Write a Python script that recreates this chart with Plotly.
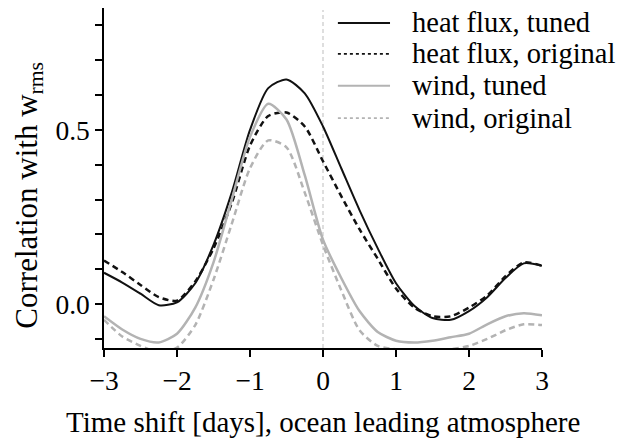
import plotly.graph_objects as go

shift_days = [-3, -2.75, -2.5, -2.25, -2, -1.75, -1.5, -1.25, -1, -0.75, -0.5, -0.25,
              0, 0.25, 0.5, 0.75, 1, 1.25, 1.5, 1.75, 2, 2.25, 2.5, 2.75, 3]

heat_tuned = [0.09, 0.062, 0.03, -0.003, 0.005, 0.06, 0.17, 0.32, 0.50, 0.62, 0.645, 0.605,
              0.51, 0.39, 0.27, 0.16, 0.06, -0.005, -0.04, -0.045, -0.02, 0.02, 0.075, 0.117, 0.11]
heat_original = [0.125, 0.092, 0.055, 0.02, 0.01, 0.065, 0.16, 0.29, 0.455, 0.54, 0.55, 0.51,
                 0.41, 0.31, 0.215, 0.13, 0.045, -0.01, -0.035, -0.035, -0.01, 0.025, 0.08, 0.12, 0.11]
wind_tuned = [-0.035, -0.073, -0.10, -0.11, -0.085, -0.01, 0.12, 0.30, 0.48, 0.575, 0.53, 0.37,
              0.185, 0.075, -0.02, -0.08, -0.105, -0.11, -0.105, -0.095, -0.085, -0.058, -0.035, -0.026, -0.032]
wind_original = [-0.045, -0.093, -0.12, -0.138, -0.125, -0.06, 0.07, 0.23, 0.39, 0.47, 0.45, 0.32,
                 0.17, 0.04, -0.075, -0.12, -0.13, -0.137, -0.137, -0.13, -0.12, -0.1, -0.075, -0.058, -0.06]

series_names = ["heat flux, tuned", "heat flux, original", "wind, tuned", "wind, original"]
series_values = [heat_tuned, heat_original, wind_tuned, wind_original]
series_colors = ["#111111", "#111111", "#b3b3b3", "#b3b3b3"]
series_dash = ["solid", "6px,4px", "solid", "6px,4px"]
series_width = [2, 2.5, 2.5, 2.5]

FONT = "Liberation Serif"
fig = go.Figure()
for name, vals, color, dash, w in zip(series_names, series_values, series_colors, series_dash, series_width):
    fig.add_trace(go.Scatter(x=shift_days, y=vals, name=name, mode="lines", showlegend=False,
                             line=dict(color=color, dash=dash, width=w, shape="spline", smoothing=0.7)))

fig.add_shape(type="line", xref="x", yref="paper", x0=0, x1=0, y0=0, y1=0.994,
              line=dict(color="#c8c8c8", width=1.2, dash="4px,3px"), layer="below")

# manual legend (key lines + labels), in paper coordinates
leg_rows = [0.956, 0.865, 0.771, 0.676]
annotations = []
for i, name in enumerate(series_names):
    fig.add_shape(type="line", xref="paper", yref="paper", x0=0.534, x1=0.653,
                  y0=leg_rows[i], y1=leg_rows[i],
                  line=dict(color=series_colors[i],
                            dash="3px,3px" if series_dash[i] != "solid" else "solid",
                            width=1.6 if series_dash[i] != "solid" else 2))
    annotations.append(dict(text=name, xref="paper", yref="paper", x=0.699, y=leg_rows[i],
                            xanchor="left", yanchor="middle", showarrow=False,
                            font=dict(family=FONT, size=28.5, color="black")))

annotations += [
    dict(text="Time shift [days], ocean leading atmosphere", xref="paper", yref="paper",
         x=0.5, y=-0.218, xanchor="center", yanchor="middle", showarrow=False,
         font=dict(family=FONT, size=29)),
    dict(text="Correlation with w<sub>rms</sub>", xref="paper", yref="paper",
         x=-0.172, y=0.45, xanchor="center", yanchor="middle", textangle=-90, showarrow=False,
         font=dict(family=FONT, size=31)),
]

fig.update_layout(
    width=628, height=439,
    margin=dict(l=104, r=86, t=8, b=91),
    paper_bgcolor="white", plot_bgcolor="white",
    font=dict(family=FONT, size=27, color="black"),
    showlegend=False,
    xaxis=dict(range=[-3, 3], tickvals=[-3, -2, -1, 0, 1, 2, 3], showgrid=False, zeroline=False,
               showline=True, linecolor="black", linewidth=1.5, ticks="outside", ticklen=7,
               tickwidth=1.5, tickcolor="black", tickfont=dict(family=FONT, size=27.5)),
    yaxis=dict(range=[-0.126, 0.85], tickvals=[0.0, 0.5], ticktext=["0.0", "0.5"], showgrid=False,
               zeroline=False, showline=True, linecolor="black", linewidth=1.5, ticks="outside",
               ticklen=7, tickwidth=1.5, tickcolor="black", tickfont=dict(family=FONT, size=27.5),
               minor=dict(dtick=0.1, tick0=0, ticks="outside", ticklen=7, tickwidth=1.5,
                          tickcolor="black", showgrid=False)),
    annotations=annotations,
)

fig.write_html("out.html")
